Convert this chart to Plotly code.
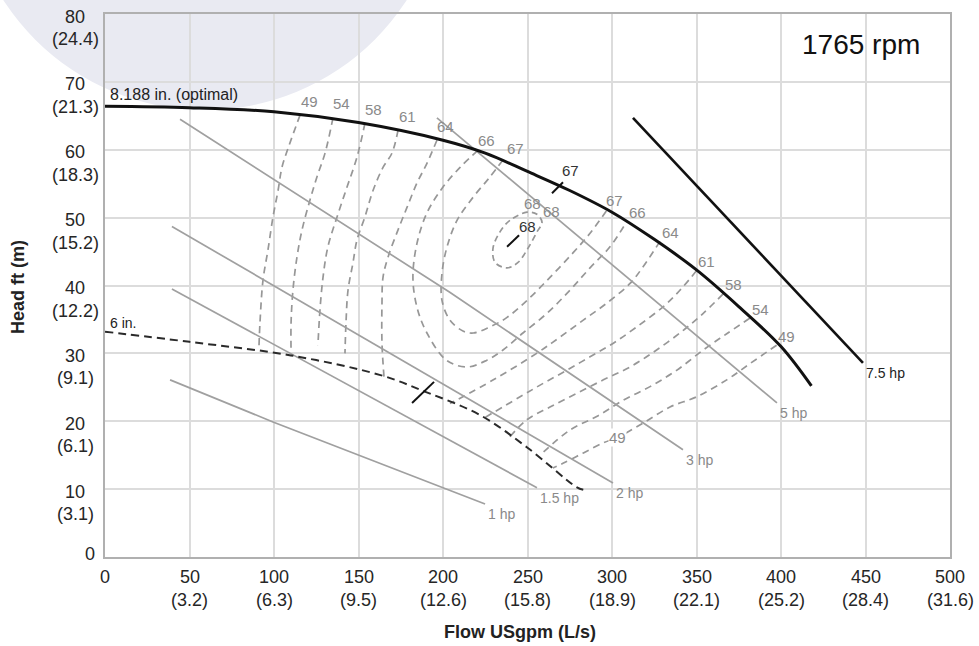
import plotly.graph_objects as go

# ---- axes -------------------------------------------------------------
flow_ticks = [0, 50, 100, 150, 200, 250, 300, 350, 400, 450, 500]
flow_ls = ["", "(3.2)", "(6.3)", "(9.5)", "(12.6)", "(15.8)", "(18.9)",
           "(22.1)", "(25.2)", "(28.4)", "(31.6)"]
head_ticks = [0, 10, 20, 30, 40, 50, 60, 70, 80]
head_m = ["", "(3.1)", "(6.1)", "(9.1)", "(12.2)", "(15.2)", "(18.3)",
          "(21.3)", "(24.4)"]

# ---- impeller head curves (flow gpm, head ft) --------------------------
imp_full_q = [0, 50, 100, 150, 200, 225, 250, 275, 300, 325, 350, 375, 400, 418]
imp_full_h = [66.4, 66.2, 65.6, 64.0, 61.4, 59.5, 56.8, 54.0, 50.8, 46.8, 42.3,
              36.9, 31.0, 25.2]
imp_6in_q = [0, 50, 110, 163, 190, 222, 250, 279, 283]
imp_6in_h = [33.2, 31.7, 29.7, 26.8, 24.3, 20.9, 16.1, 10.3, 9.9]

# ---- power lines ---------------------------------------------------------
hp1_q = [38.5, 99.4, 200.0, 224.9]
hp1_h = [26.1, 19.9, 10.2, 7.8]
hp15_q = [39.6, 255.6]
hp15_h = [39.5, 10.2]
hp2_q = [39.6, 300.6]
hp2_h = [48.7, 10.9]
hp3_q = [44.4, 204.0, 342.0]
hp3_h = [64.5, 39.0, 15.8]
hp5_q = [196.4, 397.6]
hp5_h = [64.7, 22.7]
hp75_q = [312.4, 448.5]
hp75_h = [64.7, 28.6]

# ---- efficiency contours: left branch and right branch, top to bottom ---
eff49_left_q = [115.4, 108.3, 104.7, 102.4, 99.4, 96.4, 93.5, 91.7, 91.1]
eff49_left_h = [65.1, 60.2, 57.4, 54.0, 50.1, 45.2, 40.8, 34.5, 30.9]
eff49_right_q = [397.4, 381.7, 367.9, 350.1, 334.3, 318.3, 303.0, 294.7, 282.8, 271.0, 265.0]
eff49_right_h = [31.2, 28.5, 26.1, 23.6, 22.1, 19.7, 17.6, 16.8, 15.3, 13.8, 13.1]

eff54_left_q = [134.9, 130.2, 125.4, 121.3, 116.6, 113.6, 111.2, 110.1, 110.1]
eff54_left_h = [64.7, 59.5, 56.0, 52.6, 48.2, 44.2, 39.3, 34.5, 30.2]
eff54_right_q = [381.7, 367.9, 354.0, 338.2, 322.5, 306.7, 290.9, 275.1, 257.4]
eff54_right_h = [35.2, 32.9, 30.5, 27.5, 25.1, 23.1, 20.7, 18.7, 15.0]

eff58_left_q = [153.8, 149.1, 143.2, 137.3, 131.9, 129.0, 127.2, 126.0]
eff58_left_h = [63.9, 58.9, 54.5, 50.1, 45.7, 41.2, 36.4, 31.2]
eff58_right_q = [365.9, 354.0, 342.2, 326.4, 310.7, 294.9, 279.1, 263.3, 249.5, 239.6]
eff58_right_h = [38.8, 35.9, 33.4, 30.5, 28.0, 26.1, 24.1, 22.1, 20.2, 17.7]

eff61_left_q = [173.4, 169.8, 164.5, 158.6, 153.8, 149.1, 146.7, 143.8, 142.6, 142.0]
eff61_left_h = [62.9, 59.5, 57.4, 54.0, 50.1, 46.7, 43.3, 39.3, 34.5, 30.0]
eff61_right_q = [350.1, 340.2, 330.4, 314.6, 300.8, 287.0, 273.2, 259.4, 245.6, 223.8]
eff61_right_h = [42.2, 39.3, 36.9, 33.9, 31.5, 29.5, 27.5, 25.6, 23.6, 20.4]

eff64_left_q = [196.4, 190.5, 184.6, 178.7, 173.4, 167.5, 164.5, 163.9, 163.9, 165.1]
eff64_left_h = [61.4, 58.0, 55.1, 51.5, 48.2, 44.2, 41.2, 37.4, 31.5, 26.5]
eff64_right_q = [328.4, 318.5, 310.7, 296.9, 283.0, 269.2, 255.4, 229.8, 204.1]
eff64_right_h = [46.5, 42.8, 40.3, 37.4, 34.9, 32.4, 30.0, 26.1, 22.6]

eff66_left_q = [220.7, 210.1, 200.0, 190.5, 184.6, 182.2, 184.6, 190.5, 202.0, 214.2]
eff66_left_h = [59.9, 57.4, 54.5, 50.7, 46.2, 41.2, 36.8, 33.0, 29.0, 28.0]
eff66_right_q = [308.9, 298.8, 287.0, 275.1, 261.5, 247.3, 235.5, 226.0, 214.2]
eff66_right_h = [49.5, 45.7, 42.6, 39.3, 35.9, 33.0, 30.5, 29.0, 28.0]

eff67_left_q = [235.5, 227.8, 217.8, 208.3, 202.4, 199.4, 199.4, 204.1, 211.8, 218.0]
eff67_left_h = [58.5, 56.0, 53.0, 49.6, 45.7, 41.8, 37.8, 34.9, 33.3, 33.0]
eff67_right_q = [297.0, 287.0, 276.9, 263.3, 249.7, 237.9, 227.8, 218.0]
eff67_right_h = [51.1, 47.7, 44.8, 41.2, 37.8, 35.3, 33.9, 33.0]

eff68_q = [249.7, 239.6, 233.7, 229.6, 230.8, 237.9, 244.4, 250.3, 255.6, 258.6, 255.6, 249.7]
eff68_h = [50.8, 49.6, 47.9, 45.5, 43.4, 42.6, 43.4, 45.5, 47.9, 49.3, 50.5, 50.8]

# ---- best-efficiency markers -----------------------------------------------
bep_full_q = [264.5, 271.0]
bep_full_h = [53.6, 55.2]
bep_6in_q = [181.7, 194.7]
bep_6in_h = [22.7, 25.8]
bep_68_q = [237.9, 245.0]
bep_68_h = [45.7, 47.4]

FONT = "Liberation Sans, Arial, sans-serif"
GRAY_TXT = "#8a8a8a"
EFF_COLOR = "#979797"
HP_COLOR = "#a0a0a0"

fig = go.Figure()


def line(q, h, color, width, dash="solid", shape="linear"):
    fig.add_trace(go.Scatter(
        x=q, y=h, mode="lines", hoverinfo="skip", showlegend=False,
        line=dict(color=color, width=width, dash=dash, shape=shape, smoothing=1.0),
    ))


# efficiency islands
open_contours = [
    (eff49_left_q, eff49_left_h, eff49_right_q, eff49_right_h),
    (eff54_left_q, eff54_left_h, eff54_right_q, eff54_right_h),
    (eff58_left_q, eff58_left_h, eff58_right_q, eff58_right_h),
    (eff61_left_q, eff61_left_h, eff61_right_q, eff61_right_h),
    (eff64_left_q, eff64_left_h, eff64_right_q, eff64_right_h),
]
for lq, lh, rq, rh in open_contours:
    line(lq, lh, EFF_COLOR, 1.7, "7px,5px", "spline")
    line(rq, rh, EFF_COLOR, 1.7, "7px,5px", "spline")

for lq, lh, rq, rh in [(eff66_left_q, eff66_left_h, eff66_right_q, eff66_right_h),
                       (eff67_left_q, eff67_left_h, eff67_right_q, eff67_right_h)]:
    line(lq + rq[::-1][1:], lh + rh[::-1][1:], EFF_COLOR, 1.7, "7px,5px", "spline")

line(eff68_q, eff68_h, EFF_COLOR, 1.7, "6px,4px", "spline")

# power lines
for q, h in [(hp1_q, hp1_h), (hp15_q, hp15_h), (hp2_q, hp2_h),
             (hp3_q, hp3_h), (hp5_q, hp5_h)]:
    line(q, h, HP_COLOR, 1.7)
line(hp75_q, hp75_h, "#111111", 2.6)

# impeller curves
line(imp_6in_q, imp_6in_h, "#2a2a2a", 2.0, "8px,5px", "spline")
line(imp_full_q, imp_full_h, "#111111", 3.0, "solid", "spline")

# BEP ticks
for q, h in [(bep_full_q, bep_full_h), (bep_6in_q, bep_6in_h), (bep_68_q, bep_68_h)]:
    line(q, h, "#111111", 2.0)

ann = []


def text(x, y, s, size=15, color=GRAY_TXT, xanchor="center", yanchor="middle",
         xshift=0, yshift=0, xref="x", yref="y", bg=None, textangle=0):
    a = dict(x=x, y=y, text=s, showarrow=False, xref=xref, yref=yref,
             xanchor=xanchor, yanchor=yanchor, xshift=xshift, yshift=yshift,
             font=dict(family=FONT, size=size, color=color), textangle=textangle)
    if bg:
        a["bgcolor"] = bg
        a["borderpad"] = 0
    ann.append(a)


# efficiency labels
eff_names = ["49", "54", "58", "61", "64"]
for name, (lq, lh, rq, rh) in zip(eff_names, open_contours):
    text(lq[0], lh[0], name, xshift=9, yshift=14)
    text(rq[0], rh[0], name, xshift=10, yshift=9)
text(eff66_left_q[0], eff66_left_h[0], "66", xshift=9, yshift=10)
text(eff66_right_q[0], eff66_right_h[0], "66", xshift=10, yshift=9)
text(eff67_left_q[0], eff67_left_h[0], "67", xshift=12, yshift=11)
text(eff67_right_q[0], eff67_right_h[0], "67", xshift=8, yshift=10)
text(eff49_right_q[6], eff49_right_h[6], "49", bg="white")
text(eff68_q[0], eff68_h[0], "68", xshift=6, yshift=9)
text(eff68_q[0], eff68_h[0], "68", xshift=25, yshift=1)
text(bep_68_q[1], bep_68_h[1], "68", color="#333333", xshift=8, yshift=9)
text(bep_full_q[1], bep_full_h[1], "67", color="#333333", xshift=8, yshift=12)

# power labels
hp_labels = ["1 hp", "1.5 hp", "2 hp", "3 hp", "5 hp", "7.5 hp"]
for lbl, q, h in zip(hp_labels, [hp1_q, hp15_q, hp2_q, hp3_q, hp5_q, hp75_q],
                     [hp1_h, hp15_h, hp2_h, hp3_h, hp5_h, hp75_h]):
    col = "#222222" if lbl == "7.5 hp" else GRAY_TXT
    text(q[-1], h[-1], lbl, size=14, color=col, xanchor="left", xshift=1, yshift=-10)

# impeller labels
text(imp_full_q[0], imp_full_h[0], "8.188 in. (optimal)", size=16, color="#222222",
     xanchor="left", xshift=3, yshift=12)
text(imp_6in_q[0], imp_6in_h[0], "6 in.", size=14, color="#222222",
     xanchor="left", xshift=3, yshift=9)
text(0.895, 0.943, "1765 rpm", size=28, color="#111111", xref="paper", yref="paper")

# tick labels
for q, m in zip(flow_ticks, flow_ls):
    text(q, 0, str(q), size=18, color="#262626", yref="paper", yshift=-20)
    if m:
        text(q, 0, m, size=18, color="#262626", yref="paper", yshift=-43)
for h, m in zip(head_ticks, head_m):
    if m:
        text(-0.0355, h, str(h), size=18, color="#262626", xref="paper", yshift=-2.5)
        text(-0.0355, h, m, size=18, color="#262626", xref="paper", yshift=-25)
    else:
        text(-0.0178, h, str(h), size=18, color="#262626", xref="paper", yshift=3)

# axis titles
text(0.491, 0, "<b>Flow USgpm (L/s)</b>", size=18, color="#222222",
     xref="paper", yref="paper", yshift=-75)
text(-0.103, 0.497, "<b>Head ft (m)</b>", size=18, color="#222222",
     xref="paper", yref="paper", textangle=-90)

axis_common = dict(showgrid=True, gridcolor="#dcdcdc", gridwidth=1.5, zeroline=False,
                   showline=True, linecolor="#b0b0b0", linewidth=2, mirror=True,
                   ticks="", showticklabels=False, fixedrange=True)

fig.update_layout(
    width=979, height=646,
    margin=dict(l=105, r=29, t=14, b=89),
    paper_bgcolor="white",
    plot_bgcolor="rgba(0,0,0,0)",
    xaxis=dict(range=[0, 500], tickvals=flow_ticks, **axis_common),
    yaxis=dict(range=[0, 80], tickvals=head_ticks, **axis_common),
    annotations=ann,
    shapes=[dict(type="circle", xref="paper", yref="paper", layer="below",
                 x0=-0.1657, x1=0.4024, y0=0.8232, y1=1.7072,
                 fillcolor="#e9eaf2", line=dict(width=0))],
    showlegend=False,
)

fig.write_html("out.html")
